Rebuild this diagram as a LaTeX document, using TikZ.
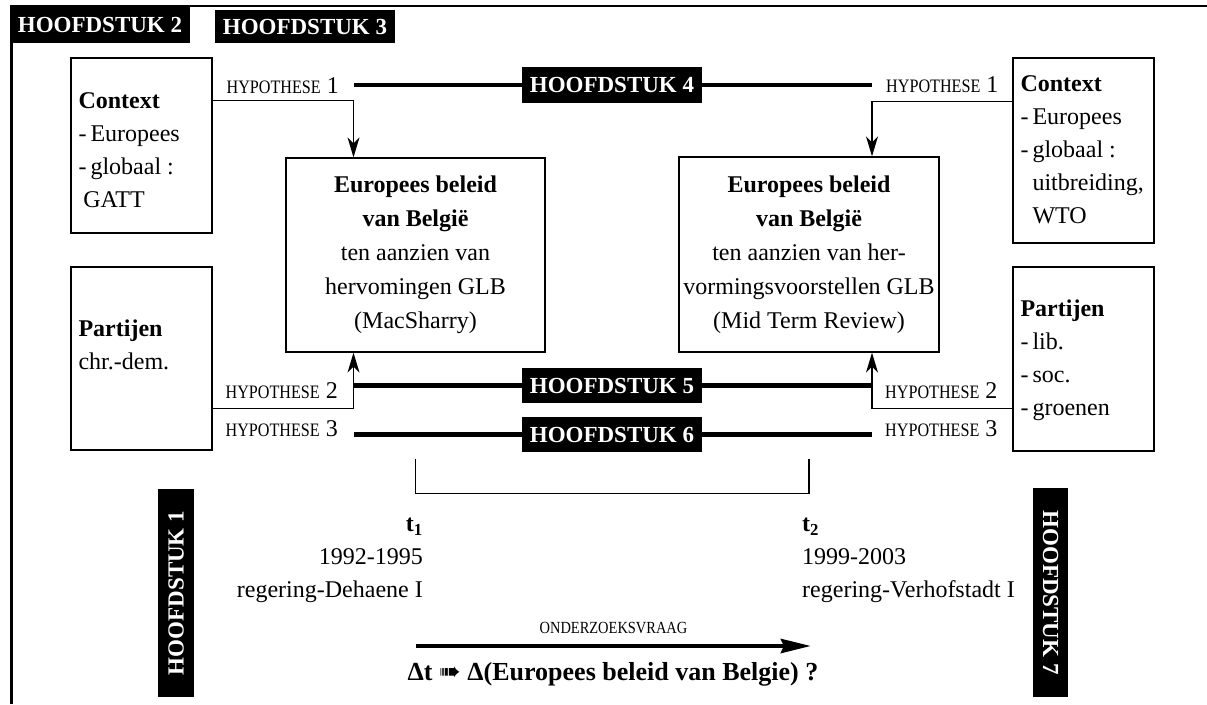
\documentclass[tikz,border=0pt]{standalone}
\usepackage{fontspec}
\setmainfont{Liberation Serif}
\newfontfamily\smalfont{Liberation Serif}[FakeStretch=0.85]
\newfontfamily\dingfont{DejaVu Sans}
\usetikzlibrary{positioning,arrows.meta,calc}
\tikzset{hstuk/.style={fill=black, text=white, inner sep=0pt, minimum width=180pt, font=\fontsize{23}{23}\selectfont\bfseries}}
\tikzset{kader/.style={draw, line width=1.3pt, inner sep=0pt}}
\tikzset{zijtekst/.style={align=left, inner sep=0pt, font=\fontsize{24}{33}\selectfont}}
\tikzset{beleid/.style={kader, align=center, font=\fontsize{24}{34}\selectfont}}
\tikzset{hyp/.style={inner sep=0pt, font=\fontsize{24}{24}\selectfont}}
\tikzset{verb/.style={draw, line width=1.2pt, -{Stealth[length=20pt, width=12pt, inset=6pt]}}}
\tikzset{zwaar/.style={draw, line width=4.5pt}}
\newcommand{\hypnr}[1]{{\smalfont\fontsize{19}{19}\selectfont HYPOTHESE}~#1}

\begin{document}
\begin{tikzpicture}[x=1pt, y=-1pt]
	\useasboundingbox (0,0) rectangle (1207,704);
	% kader
	\draw[line width=2.5pt] (11.5,704) -- (11.5,6) -- (1207,6);
	\node[hstuk, minimum height=37pt] (hs2) at (100,24.5) {HOOFDSTUK 2};
	\node[hstuk, minimum height=33pt] (hs3) at (305,26.5) {HOOFDSTUK 3};

	% context en partijen
	\node[kader, minimum width=141pt, minimum height=175pt] (ctxL) at (141.5,145.5) {};
	\node[kader, minimum width=141pt, minimum height=183pt] (ptL) at (141.5,358.5) {};
	\node[kader, minimum width=141pt, minimum height=185pt] (ctxR) at (1083.5,150.5) {};
	\node[kader, minimum width=141pt, minimum height=184pt] (ptR) at (1083.5,359) {};
	\node[zijtekst, anchor=north west] (ctxLt) at ([shift={(8,35)}]ctxL.north west)
		{\textbf{Context}\\-\,Europees\\-\,globaal :\\\hspace{0.2em}GATT};
	\node[zijtekst, anchor=north west] (ptLt) at ([shift={(8,53)}]ptL.north west)
		{\textbf{Partijen}\\chr.-dem.};
	\node[zijtekst, anchor=north west] (ctxRt) at ([shift={(8,18)}]ctxR.north west)
		{\textbf{Context}\\-\,Europees\\-\,globaal :\\\phantom{-\,}uitbreiding,\\\phantom{-\,}WTO};
	\node[zijtekst, anchor=north west] (ptRt) at ([shift={(8,33)}]ptR.north west)
		{\textbf{Partijen}\\-\,lib.\\-\,soc.\\-\,groenen};

	% beleid t1 en t2
	\node[beleid, minimum width=259pt, minimum height=194pt] (polL) at (415.5,255)
		{\textbf{Europees beleid}\\\textbf{van België}\\ten aanzien van\\hervomingen GLB\\(MacSharry)};
	\node[beleid, minimum width=260pt, minimum height=195pt] (polR) at (809,254.5)
		{\textbf{Europees beleid}\\\textbf{van België}\\ten aanzien van her-\\vormingsvoorstellen GLB\\(Mid Term Review)};

	% hypothesen
	\node[hyp, anchor=base east] (h1L) at (339,93) {\hypnr{1}};
	\node[hyp, anchor=base west] (h1R) at (886,92) {\hypnr{1}};
	\node[hyp, anchor=base east] (h2L) at (338,398) {\hypnr{2}};
	\node[hyp, anchor=base west] (h2R) at (885,398) {\hypnr{2}};
	\node[hyp, anchor=base east] (h3L) at (338,436) {\hypnr{3}};
	\node[hyp, anchor=base west] (h3R) at (885,436) {\hypnr{3}};

	\node[hstuk, minimum height=36pt] (hs4) at (612,85) {HOOFDSTUK 4};
	\node[hstuk, minimum height=35pt] (hs5) at (612,385.5) {HOOFDSTUK 5};
	\node[hstuk, minimum height=35pt] (hs6) at (612,434.5) {HOOFDSTUK 6};
	\node[hstuk, minimum width=208pt, minimum height=36pt, rotate=90] (hs1) at (176,593) {HOOFDSTUK 1};
	\node[hstuk, minimum width=209pt, minimum height=35pt, rotate=-90] (hs7) at (1050.5,592.5) {HOOFDSTUK 7};

	\coordinate (kolL) at (353.5,0);
	\coordinate (kolR) at (872,0);
	\draw[verb] ([yshift=-43pt]ctxL.north east) -| (kolL |- polL.north);
	\draw[verb] ([yshift=-44pt]ctxR.north west) -| (kolR |- polR.north);
	\draw[verb] ([yshift=-142pt]ptL.north east) -| (kolL |- polL.south);
	\draw[verb] ([yshift=-142pt]ptR.north west) -| (kolR |- polR.south);

	\draw[zwaar] (hs4.west) -- (hs4.west -| kolL);
	\draw[zwaar] (hs4.east) -- (hs4.east -| kolR);
	\draw[zwaar] (hs5.west) -- (hs5.west -| kolL);
	\draw[zwaar] (hs5.east) -- (hs5.east -| kolR);
	\draw[zwaar] (hs6.west) -- (hs6.west -| kolL);
	\draw[zwaar] (hs6.east) -- (hs6.east -| kolR);

	% periode
	\draw[line width=1.2pt] ([yshift=-106pt]polL.south) -- ([yshift=-141pt]polL.south)
		-| ([yshift=-106pt]polR.south);
	\node[zijtekst, align=right, anchor=north east] (t1) at (423,518)
		{\textbf{t\textsubscript{1}}\\1992-1995\\regering-Dehaene I};
	\node[zijtekst, anchor=north west] (t2) at (802,518)
		{\textbf{t\textsubscript{2}}\\1999-2003\\regering-Verhofstadt I};

	% onderzoeksvraag
	\coordinate (vA) at (416,646);
	\coordinate (vB) at (811,646);
	\draw[line width=4.5pt, -{Stealth[length=30pt, width=14pt, inset=3pt]}] (vA) --
		node[midway, anchor=base, yshift=13pt, inner sep=0pt, font=\smalfont\fontsize{17}{17}\selectfont] (ovraag) {ONDERZOEKSVRAAG}
		(vB);
	\node[anchor=base, inner sep=0pt, font=\fontsize{26}{26}\selectfont\bfseries] (vraag) at (613,680)
		{Δt {\dingfont\fontsize{26}{26}\selectfont ➠} Δ(Europees beleid van Belgie) ?};
\end{tikzpicture}
\end{document}
